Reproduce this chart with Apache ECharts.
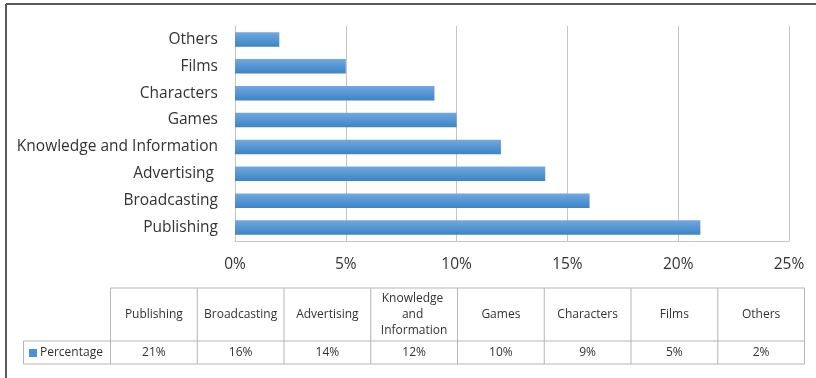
<!DOCTYPE html>
<html>
<head>
<meta charset="utf-8">
<script src="https://cdn.jsdelivr.net/npm/echarts@6/dist/echarts.min.js"></script>
<style>
  html, body { margin: 0; padding: 0; background: #fff; }
  #chart { width: 816px; height: 378px; }
</style>
</head>
<body>
<div id="chart"></div>
<script>
// Share of content industry sectors (percent); first category sits at the bottom of the axis
const categories = ['Publishing', 'Broadcasting', 'Advertising ', 'Knowledge and Information', 'Games', 'Characters', 'Films', 'Others'];
const percentage = [21, 16, 14, 12, 10, 9, 5, 2];
const seriesName = 'Percentage';
const xTicks = { min: 0, max: 25, interval: 5 };

const FONT = '"Open Sans", "Noto Sans", sans-serif';
const TEXT = '#333333';
const GRIDLINE = '#c4c4c4';
const BAR_TOP = '#72a8de';
const BAR_BOTTOM = '#3c84c6';

// Data table under the plot
const table = { left: 23.5, colX: 110.5, colW: 86.75, top: 288, mid: 341, bottom: 364 };
const graphics = [];
const lineStyle = { stroke: '#b5b5b5', lineWidth: 1 };
function hline(x1, x2, y) {
  graphics.push({ type: 'line', shape: { x1, y1: y, x2, y2: y }, style: lineStyle, silent: true });
}
function vline(x, y1, y2) {
  graphics.push({ type: 'line', shape: { x1: x, y1, x2: x, y2 }, style: lineStyle, silent: true });
}
const tableRight = table.colX + table.colW * categories.length;
hline(table.colX, tableRight, table.top);
hline(table.left, tableRight, table.mid);
hline(table.left, tableRight, table.bottom);
vline(table.left, table.mid, table.bottom);
for (let i = 0; i <= categories.length; i++) {
  vline(table.colX + i * table.colW, table.top, table.bottom);
}
categories.forEach((name, i) => {
  const cx = table.colX + (i + 0.5) * table.colW;
  graphics.push({
    type: 'text', x: cx, y: (table.top + table.mid) / 2, silent: true,
    style: {
      text: name.trim(), width: table.colW - 10, overflow: 'break',
      align: 'center', verticalAlign: 'middle', textAlign: 'center', textVerticalAlign: 'middle',
      fill: TEXT, font: '12px ' + FONT, lineHeight: 16
    }
  });
  graphics.push({
    type: 'text', x: cx, y: (table.mid + table.bottom) / 2 + 0.5, silent: true,
    style: {
      text: percentage[i] + '%', align: 'center', verticalAlign: 'middle',
      textAlign: 'center', textVerticalAlign: 'middle',
      fill: TEXT, font: '12px ' + FONT
    }
  });
});
// legend key + series name in the first column
graphics.push({
  type: 'rect', shape: { x: 29, y: 349, width: 8, height: 8 }, silent: true,
  style: { fill: '#4a8fd0' }
});
graphics.push({
  type: 'text', x: 40, y: (table.mid + table.bottom) / 2 + 0.5, silent: true,
  style: { text: seriesName, textAlign: 'left', textVerticalAlign: 'middle', verticalAlign: 'middle', fill: TEXT, font: '12px ' + FONT }
});
// outer frame (top and left edges)
graphics.push({ type: 'line', shape: { x1: 6, y1: 4, x2: 816, y2: 4 }, style: { stroke: '#5a5a5a', lineWidth: 2 }, silent: true });
graphics.push({ type: 'line', shape: { x1: 6, y1: 4, x2: 6, y2: 378 }, style: { stroke: '#5a5a5a', lineWidth: 2 }, silent: true });

const chart = echarts.init(document.getElementById('chart'), null, { renderer: 'canvas' });
chart.setOption({
  animation: false,
  backgroundColor: '#fff',
  grid: { left: 235, right: 27, top: 26, bottom: 137, containLabel: false },
  xAxis: {
    type: 'value',
    min: xTicks.min, max: xTicks.max, interval: xTicks.interval,
    axisLine: { show: true, lineStyle: { color: GRIDLINE, width: 1 } },
    axisTick: { show: false },
    splitLine: { show: true, lineStyle: { color: GRIDLINE, width: 1 } },
    axisLabel: { formatter: '{value}%', color: TEXT, fontFamily: FONT, fontSize: 15.5, margin: 16 }
  },
  yAxis: {
    type: 'category',
    data: categories,
    axisLine: { show: true, lineStyle: { color: GRIDLINE, width: 1 } },
    axisTick: { show: false },
    axisLabel: { color: TEXT, fontFamily: FONT, fontSize: 15.5, margin: 17 }
  },
  series: [{
    name: seriesName,
    type: 'bar',
    data: percentage,
    barCategoryGap: '46%',
    itemStyle: {
      color: new echarts.graphic.LinearGradient(0, 0, 0, 1, [
        { offset: 0, color: BAR_TOP },
        { offset: 1, color: BAR_BOTTOM }
      ])
    }
  }],
  graphic: graphics
});
</script>
</body>
</html>
